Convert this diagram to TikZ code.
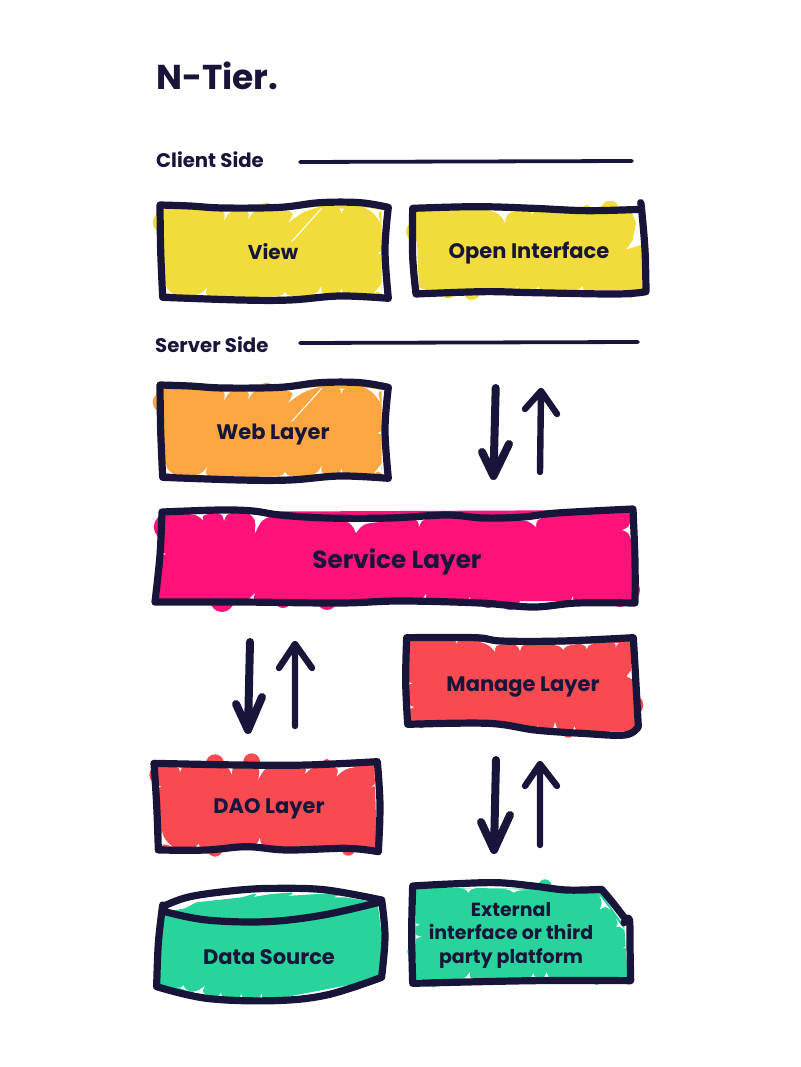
\documentclass[tikz,border=0pt]{standalone}
\usepackage{fontspec}
\usetikzlibrary{calc}
\setmainfont{Poppins}
\definecolor{ink}{HTML}{17163A}
\definecolor{cyellow}{HTML}{F2DC3B}
\definecolor{corange}{HTML}{FBA640}
\definecolor{cpink}{HTML}{FF1279}
\definecolor{cred}{HTML}{F94A52}
\definecolor{cgreen}{HTML}{28D49C}
\tikzset{
  pen/.style={draw=ink,line width=7.2pt,line cap=round,line join=round},
  thinpen/.style={draw=ink,line width=3.8pt,line cap=round},
  blob/.style={line width=2pt,line join=round},
  downarrow/.style={draw=ink,line width=8pt,line cap=round,line join=round},
  uparrow/.style={draw=ink,line width=6.4pt,line cap=round,line join=round},
  label/.style={text=ink,font=\bfseries\fontsize{21}{25}\selectfont,align=center,inner sep=0pt},
}
% a white cusp between two scribble strokes: base points a, b and tip c
\newcommand{\G}[3]{\fill[white] (#1) .. controls ($.5*(#1)+.25*(#2)+.25*(#3)$) .. (#3)
   .. controls ($.5*(#2)+.25*(#1)+.25*(#3)$) .. (#2) -- cycle;}
\newcommand{\wavybox}[1]{%
  \path[blob,fill=#1,draw=#1] (68,55)--(240,58)--(420,55)--(660,48)--(722,60)--(722,315)--(72,318)--cycle;
  \fill[#1] (68,97) circle (30) (380,60) circle (22) (510,55) circle (25)
     (230,315) circle (23) (330,318) circle (20) (700,312) circle (18) (695,110) circle (28);
  \G{246,62}{280,62}{252,92}\G{318,62}{350,62}{325,88}\G{435,60}{540,50}{445,98}
  \G{598,56}{614,56}{604,72}\G{672,52}{728,60}{722,98}\G{730,172}{730,202}{712,190}
  \G{76,280}{72,314}{100,314}\G{168,316}{204,316}{202,292}\G{416,318}{454,318}{435,306}
  \G{516,316}{555,312}{545,288}\G{588,314}{618,314}{605,296}\G{730,275}{700,312}{728,312}
  \draw[white,line width=1pt] (545,55)--(455,155);
  \draw[pen] plot[smooth,tension=.6] coordinates {(60,45)(150,48)(250,54)(420,52)(540,38)(660,38)(745,52)}
     plot[smooth,tension=.6] coordinates {(745,52)(735,180)(745,325)}
     plot[smooth,tension=.6] coordinates {(745,325)(600,318)(450,330)(300,330)(68,322)}
     plot[smooth,tension=.6] coordinates {(68,322)(62,180)(60,45)};
}
\begin{document}
\begin{tikzpicture}[x=1pt,y=-1pt]
\useasboundingbox (0,0) rectangle (800,1067);

% View
\begin{scope}[shift={(140,190)},scale=1/3]\wavybox{cyellow}\end{scope}
% Web layer
\begin{scope}[shift={(140,370)},scale=1/3]\wavybox{corange}\end{scope}

% Open Interface
\begin{scope}[shift={(400,190)},scale=1/3]
  \path[blob,fill=cyellow,draw=cyellow] (50,62)--(690,62)--(705,100)--(695,150)--(670,185)--(722,168)--(725,298)--(60,300)--cycle;
  \fill[cyellow] (48,125) circle (30) (630,60) circle (28) (230,60) circle (20)
     (145,305) circle (20) (215,305) circle (25) (690,310) circle (15) (560,60) circle (15);
  \G{265,60}{350,62}{315,98}\G{388,60}{407,62}{395,76}\G{503,60}{527,60}{512,76}
  \G{50,285}{55,304}{78,300}\G{332,304}{370,304}{352,290}\G{398,302}{427,302}{415,290}\G{528,300}{557,302}{548,288}
  \draw[pen] plot[smooth,tension=.6] coordinates {(38,55)(230,50)(400,55)(560,62)(722,58)}
     plot[smooth,tension=.6] coordinates {(722,38)(725,60)(735,180)(738,305)}
     plot[smooth,tension=.6] coordinates {(738,305)(650,312)(400,308)(250,305)(48,312)}
     plot[smooth,tension=.6] coordinates {(48,312)(38,200)(38,55)};
\end{scope}

% Service layer (absolute pixels)
\fill[cpink] (168,527) circle (14) (222,600) circle (12) (283,600) circle (8) (327,600) circle (10)
   (353,524) circle (13) (488,600) circle (8) (510,600) circle (10) (600,598) circle (8) (620,598) circle (9) (628,590) circle (12);
\path[blob,fill=cpink,draw=cpink] (164,513)--(632,511)--(632,600)--(160,600)--cycle;
\G{190,514}{208,514}{203,520}\G{218,513}{231,513}{224,521}\G{248,513}{272,516}{255,533}
\G{335,518}{380,522}{356,533}\G{414,519}{426,519}{419,527}\G{516,520}{547,516}{536,527}
\G{631,520}{631,540}{622,530}\G{161,549}{161,559}{166,554}\G{243,601}{257,601}{255,593}
\G{418,600}{430,601}{426,594}\G{463,603}{475,603}{470,597}\G{566,604}{577,604}{573,596}
\draw[pen] plot[smooth,tension=.6] coordinates {(162,512)(220,510)(253,511)(280,515)(327,518)(390,518)(447,515)(483,518)(523,517)(557,513)(633,509)}
   plot[smooth,tension=.6] coordinates {(633,509)(635,562)(635,603)}
   plot[smooth,tension=.6] coordinates {(635,603)(577,603)(533,607)(480,603)(400,601)(340,603)(240,602)(155,602)}
   plot[smooth,tension=.6] coordinates {(155,602)(160,555)(162,512)};

% Manage layer
\begin{scope}[shift={(395,625)},scale=1/3]
  \path[blob,fill=cred,draw=cred] (45,50)--(705,50)--(705,135)--(690,155)--(718,170)--(722,315)--(560,318)--(280,290)--(45,290)--cycle;
  \fill[cred] (50,140) circle (28) (715,240) circle (30) (675,85) circle (20) (80,295) circle (15) (520,320) circle (18);
  \G{178,46}{192,46}{185,56}\G{252,50}{325,58}{300,80}\G{352,56}{395,58}{375,78}
  \G{462,58}{545,58}{505,74}\G{557,58}{595,56}{575,72}\G{658,54}{672,54}{662,68}
  \G{40,232}{40,262}{58,246}\G{40,166}{40,184}{52,175}
  \G{412,312}{443,314}{428,302}\G{462,316}{500,322}{480,290}\G{518,320}{562,324}{538,304}
  \draw[pen] plot[smooth,tension=.6] coordinates {(35,38)(240,38)(320,48)(500,48)(715,38)}
     plot[smooth,tension=.6] coordinates {(715,38)(722,160)(730,305)}
     plot[smooth,tension=.6] coordinates {(730,305)(690,330)(560,325)(420,315)(280,295)(38,298)}
     plot[smooth,tension=.6] coordinates {(38,298)(32,170)(35,38)};
\end{scope}

% DAO layer
\begin{scope}[shift={(140,745)},scale=1/3]
  \path[blob,fill=cred,draw=cred] (52,62)--(700,60)--(708,312)--(62,312)--cycle;
  \fill[cred] (225,55) circle (27) (335,50) circle (25) (560,55) circle (13) (72,55) circle (10)
     (55,90) circle (27) (225,312) circle (23) (625,312) circle (20) (712,240) circle (18);
  \G{108,64}{134,64}{120,82}\G{252,64}{290,64}{275,88}\G{347,64}{392,64}{355,102}
  \G{486,64}{535,64}{495,86}\G{575,62}{646,66}{590,94}\G{714,98}{714,134}{695,125}
  \G{48,111}{50,139}{64,125}\G{66,258}{60,308}{98,306}\G{336,304}{376,304}{360,278}\G{167,306}{182,306}{177,296}
  \draw[pen] plot[smooth,tension=.6] coordinates {(42,55)(300,60)(500,60)(712,50)}
     plot[smooth,tension=.6] coordinates {(712,50)(720,180)(715,320)}
     plot[smooth,tension=.6] coordinates {(715,320)(620,310)(440,315)(320,305)(200,315)(55,315)}
     plot[smooth,tension=.6] coordinates {(55,315)(50,180)(42,55)};
\end{scope}

% Data source
\begin{scope}[shift={(140,870)},scale=1/3]
  \path[blob,fill=cgreen,draw=cgreen] (135,118)--(170,100)--(305,85)--(345,74)--(320,87)--(395,75)--(455,70)--(420,82)--(535,75)--(600,72)--(560,85)--(615,85)--(710,100)
     --(725,220)--(715,325)--(400,385)--(200,375)--(60,345)--(70,130)--cycle;
  \fill[cgreen] (720,220) circle (22);
  \G{112,352}{148,364}{130,346}\G{150,366}{198,374}{195,348}\G{232,378}{250,380}{243,368}
  \G{294,384}{312,384}{304,370}\G{350,388}{372,388}{366,370}\G{555,378}{592,364}{585,352}
  \draw[pen] plot[smooth,tension=.6] coordinates {(68,110)(150,80)(300,60)(420,55)(560,60)(725,90)}
     plot[smooth,tension=.6] coordinates {(75,125)(200,150)(380,155)(550,135)(725,95)}
     plot[smooth,tension=.6] coordinates {(725,90)(735,200)(725,320)}
     plot[smooth,tension=.6] coordinates {(50,350)(200,385)(400,392)(560,375)(725,322)}
     plot[smooth,tension=.6] coordinates {(68,105)(55,220)(50,350)};
\end{scope}

% External platform
\begin{scope}[shift={(400,870)},scale=1/3]
  \path[blob,fill=cgreen,draw=cgreen] (50,55)--(595,62)--(670,170)--(680,325)--(50,325)--cycle;
  \fill[cgreen] (435,48) circle (20) (100,335) circle (17) (590,330) circle (15) (45,245) circle (23);
  \G{183,56}{228,54}{205,68}\G{303,56}{388,60}{340,68}\G{453,58}{472,58}{460,68}
  \G{598,76}{632,120}{600,118}\G{648,146}{676,182}{648,170}
  \G{40,146}{40,180}{60,165}\G{40,183}{40,219}{65,200}
  \G{182,328}{220,328}{210,306}\G{378,326}{420,326}{400,311}\G{418,326}{460,326}{440,307}
  \G{686,220}{686,238}{668,235}
  \draw[pen] plot[smooth,tension=.6] coordinates {(38,48)(150,42)(290,38)(400,48)(500,60)(605,58)}
     plot[smooth,tension=.6] coordinates {(605,58)(640,100)(680,152)}
     plot[smooth,tension=.6] coordinates {(672,158)(688,148)(690,230)(692,332)}
     plot[smooth,tension=.6] coordinates {(692,332)(400,332)(38,340)}
     plot[smooth,tension=.6] coordinates {(38,340)(35,190)(38,48)};
\end{scope}

% Text
\node[label,anchor=base west,font=\bfseries\fontsize{34.5}{40}\selectfont] (title) at (156,90) {N-Tier.};
\node[label,anchor=base west,font=\bfseries\fontsize{19.7}{23}\selectfont] (client) at (156,168) {Client Side};
\node[label,anchor=base west,font=\bfseries\fontsize{19.7}{23}\selectfont] (server) at (155,352) {Server Side};
\node[label,font=\bfseries\fontsize{20}{24}\selectfont] (view) at (273,252) {View};
\node[label] (open) at (529,253) {Open Interface};
\node[label] (web) at (273,435) {Web Layer};
\node[label,font=\bfseries\fontsize{24.7}{28}\selectfont] (service) at (397,562) {Service Layer};
\node[label] (manage) at (523,687) {Manage Layer};
\node[label] (dao) at (269,809) {DAO Layer};
\node[label] (data) at (269,957) {Data Source};
\node[label,font=\bfseries\fontsize{19}{23.5}\selectfont] (ext) at (511,935) {External\\interface or third\\party platform};

% Rules
\coordinate (c1) at (300,162); \coordinate (c2) at (632,161);
\coordinate (s1) at (300,343); \coordinate (s2) at (638,342);
\draw[thinpen] (c1) -- (c2);
\draw[thinpen] (s1) -- (s2);

% Arrow pairs
\coordinate (a1) at (495.7,388); \coordinate (a2) at (493.5,476);
\coordinate (a3) at (482,452); \coordinate (a4) at (509,444);
\draw[downarrow] (a1) -- (a2) (a3) -- (a2) -- (a4);
\coordinate (b1) at (540,472); \coordinate (b2) at (541,391);
\coordinate (b3) at (525,409); \coordinate (b4) at (557,414);
\draw[uparrow] (b1) -- (b2) (b3) -- (b2) -- (b4);

\coordinate (d1) at (250,642); \coordinate (d2) at (248,730);
\coordinate (d3) at (236,704); \coordinate (d4) at (262,697);
\draw[downarrow] (d1) -- (d2) (d3) -- (d2) -- (d4);
\coordinate (e1) at (295,726); \coordinate (e2) at (295,644);
\coordinate (e3) at (279,668); \coordinate (e4) at (312,668);
\draw[uparrow] (e1) -- (e2) (e3) -- (e2) -- (e4);

\coordinate (f1) at (496,760); \coordinate (f2) at (494,850);
\coordinate (f3) at (481,822); \coordinate (f4) at (510,815);
\draw[downarrow] (f1) -- (f2) (f3) -- (f2) -- (f4);
\coordinate (g1) at (540,845); \coordinate (g2) at (540,764);
\coordinate (g3) at (525,786); \coordinate (g4) at (557,786);
\draw[uparrow] (g1) -- (g2) (g3) -- (g2) -- (g4);
\end{tikzpicture}
\end{document}
